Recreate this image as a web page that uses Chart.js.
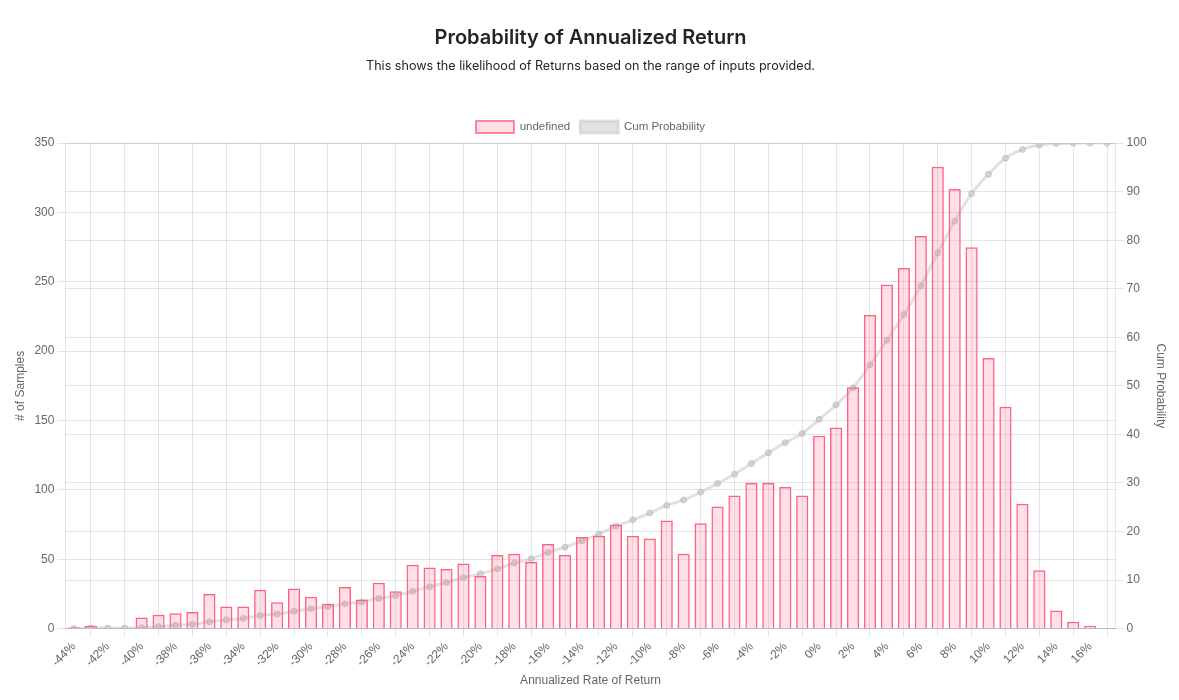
<!DOCTYPE html>
<html>
<head>
<meta charset="utf-8">
<style>
  html, body { margin: 0; padding: 0; background: #fff; }
  #wrap { width: 1179px; height: 700px; }
</style>
<script src="https://cdn.jsdelivr.net/npm/chart.js@4.4.0/dist/chart.umd.min.js"></script>
</head>
<body>
<div id="wrap"><canvas id="returns"></canvas></div>
<script>
// return buckets, -44% .. 17%
var returnLabels = ['-44%', '-43%', '-42%', '-41%', '-40%', '-39%', '-38%', '-37%', '-36%', '-35%',
    '-34%', '-33%', '-32%', '-31%', '-30%', '-29%', '-28%', '-27%', '-26%', '-25%',
    '-24%', '-23%', '-22%', '-21%', '-20%', '-19%', '-18%', '-17%', '-16%', '-15%',
    '-14%', '-13%', '-12%', '-11%', '-10%', '-9%', '-8%', '-7%', '-6%', '-5%',
    '-4%', '-3%', '-2%', '-1%', '0%', '1%', '2%', '3%', '4%', '5%',
    '6%', '7%', '8%', '9%', '10%', '11%', '12%', '13%', '14%', '15%',
    '16%', '17%'];

var sampleCounts = [1, 2, 0, 0, 8, 10, 11, 12, 25, 16,
    16, 28, 19, 29, 23, 18, 30, 21, 33, 27,
    46, 44, 43, 47, 38, 53, 54, 48, 61, 53,
    66, 67, 75, 67, 65, 78, 54, 76, 88, 96,
    105, 105, 102, 96, 139, 145, 174, 226, 248, 260,
    283, 333, 317, 275, 195, 160, 90, 42, 13, 5,
    2, 0];

var cumProbability = [0.0, 0.1, 0.1, 0.1, 0.2, 0.4, 0.7, 0.9, 1.4, 1.8,
    2.1, 2.7, 3.0, 3.6, 4.1, 4.5, 5.1, 5.5, 6.2, 6.8,
    7.7, 8.6, 9.5, 10.5, 11.3, 12.3, 13.5, 14.4, 15.7, 16.8,
    18.1, 19.5, 21.1, 22.4, 23.8, 25.4, 26.5, 28.1, 29.9, 31.8,
    34.0, 36.2, 38.3, 40.2, 43.1, 46.1, 49.6, 54.3, 59.4, 64.7,
    70.6, 77.4, 83.9, 89.6, 93.6, 96.9, 98.7, 99.6, 99.9, 100,
    100, 100];

var samplesTicks = { min: 0, max: 350, step: 50 };
var probTicks = { min: 0, max: 100, step: 10 };

Chart.defaults.font.family = "'Helvetica Neue', Helvetica, Arial, sans-serif";
Chart.defaults.color = '#666';

var ctx = document.getElementById('returns').getContext('2d');
var chart = new Chart(ctx, {
    type: 'bar',
    data: {
        labels: returnLabels,
        datasets: [{
            label: 'undefined',
            data: sampleCounts,
            yAxisID: 'samples',
            backgroundColor: 'rgba(255, 99, 132, 0.2)',
            borderColor: 'rgba(255, 99, 132, 1)',
            borderWidth: 1.5
        }, {
            type: 'line',
            label: 'Cum Probability',
            data: cumProbability,
            yAxisID: 'prob',
            backgroundColor: 'rgba(200, 200, 200, 0.5)',
            borderColor: 'rgba(200, 200, 200, 0.55)',
            borderWidth: 3,
            pointRadius: 3,
            pointBorderWidth: 1,
            pointBackgroundColor: 'rgba(195, 195, 195, 0.6)',
            pointBorderColor: 'rgba(170, 170, 170, 0.5)',
            tension: 0.4,
            fill: false
        }]
    },
    options: {
        responsive: true,
        maintainAspectRatio: false,
        animation: false,
        layout: { padding: { top: 16, left: 9, right: 7, bottom: 8 } },
        plugins: {
            title: {
                display: true,
                text: 'Probability of Annualized Return',
                color: '#212529',
                font: { family: 'Inter', size: 20, weight: '600' },
                padding: { top: 10, bottom: 9 }
            },
            subtitle: {
                display: true,
                text: 'This shows the likelihood of Returns based on the range of inputs provided.',
                color: '#212529',
                font: { family: 'Inter', size: 12.6, weight: '400' },
                padding: { top: 0, bottom: 37 }
            },
            legend: {
                labels: { boxWidth: 38, boxHeight: 12, font: { size: 11.5 } }
            }
        },
        scales: {
            x: {
                title: { display: true, text: 'Annualized Rate of Return', font: { size: 12 }, padding: { top: 1, bottom: 4 } },
                ticks: { minRotation: 45, maxRotation: 45, font: { size: 12 } }
            },
            samples: {
                type: 'linear',
                position: 'left',
                min: samplesTicks.min,
                max: samplesTicks.max,
                ticks: { stepSize: samplesTicks.step, font: { size: 12 } },
                title: { display: true, text: '# of Samples', font: { size: 12 } }
            },
            prob: {
                type: 'linear',
                position: 'right',
                min: probTicks.min,
                max: probTicks.max,
                ticks: { stepSize: probTicks.step, font: { size: 12 } },
                title: { display: true, text: 'Cum Probability', font: { size: 12 } }
            }
        }
    }
});
</script>
</body>
</html>
